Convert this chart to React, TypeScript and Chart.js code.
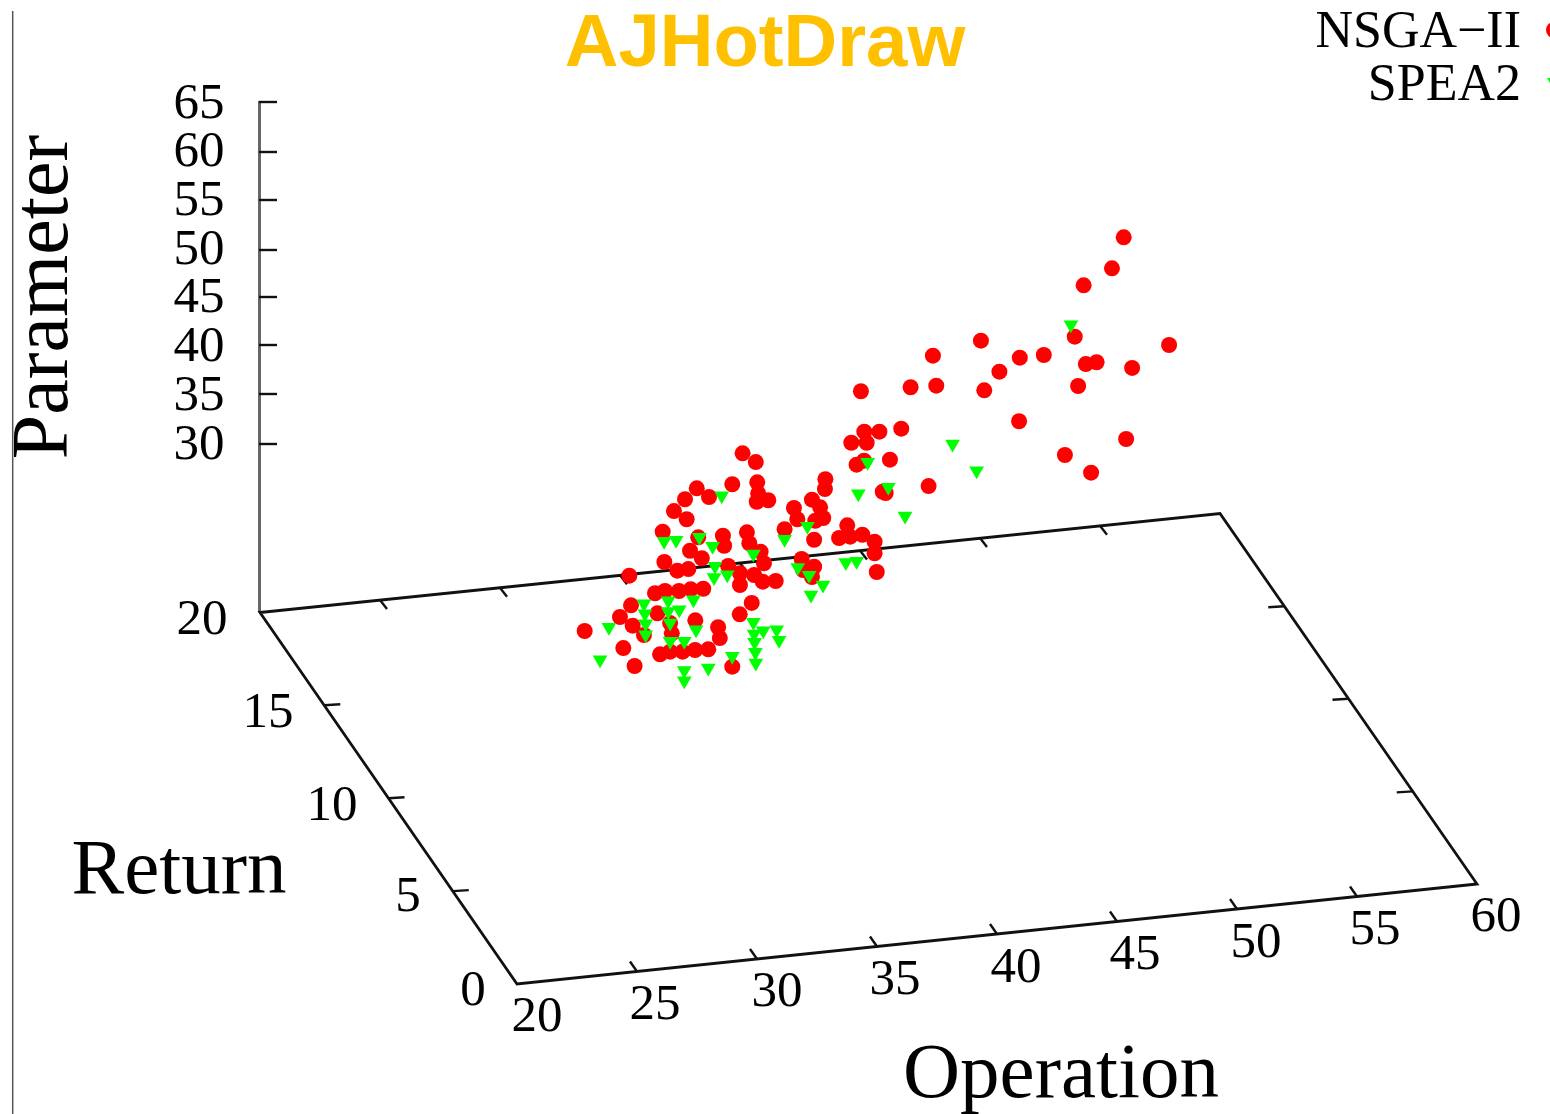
import React, { useEffect, useRef } from "react";
import { Chart, registerables } from "chart.js";

Chart.register(...registerables);

// Values are read from the picture. The source is a 3D view, so each mark is stored as its
// projected position in Operation units (along the front edge) and Parameter units (up the vertical axis).
const nsgaOperation = [45.28,44.79,43.61,43.24,39.33,47.17,37.33,40.95,41.95,40.10,43.70,44.15,45.63,36.40,37.47,39.47,43.38,34.33,40.92,36.01,35.10,34.47,33.93,34.57,45.38,42.83,43.92,35.54,34.15,34.46,37.15,35.24,35.36,29.40,29.95,28.97,30.01,27.49,28.00,27.00,30.05,29.99,30.47,26.54,27.07,26.07,32.85,32.83,32.29,32.63,31.54,31.68,32.43,32.76,31.15,32.38,33.76,33.42,33.88,34.39,34.90,34.90,28.58,28.63,27.55,27.21,27.70,29.58,29.68,30.15,30.29,31.86,32.38,26.14,34.99,24.68,26.68,27.14,28.80,29.29,29.29,29.88,30.24,30.78,25.75,26.17,26.75,27.24,27.76,24.75,24.29,25.85,24.82,22.82,25.29,26.45,26.38,27.43,28.38,28.45,29.78,29.28,24.43,24.90,25.96,26.38,26.90,27.42,27.97,28.97,31.92,32.29];
const nsgaParameter = [51.09,47.93,46.19,40.95,40.54,40.10,39.01,38.81,39.08,37.38,38.16,38.34,37.76,35.79,35.95,35.48,35.92,35.38,32.32,31.56,31.26,31.26,30.13,30.13,30.51,28.88,27.07,28.40,27.89,28.30,25.71,25.13,25.00,29.05,28.16,25.89,26.09,25.48,24.59,24.36,24.97,24.11,24.26,23.16,22.32,21.05,26.40,25.41,24.32,23.54,23.47,22.32,22.17,22.45,21.30,20.23,21.70,20.41,20.54,20.74,20.03,18.85,20.64,19.62,20.48,19.11,18.34,20.99,19.87,19.01,17.83,18.27,17.48,17.96,16.94,16.56,17.07,17.24,17.55,16.81,15.61,16.63,15.95,16.02,14.77,15.00,15.00,15.17,15.23,13.54,12.35,12.72,11.46,10.92,10.51,10.68,11.73,12.01,11.30,10.20,13.78,12.62,9.18,7.35,8.54,8.81,8.81,8.98,9.05,7.28,17.14,16.43];
const spea2Operation = [43.08,38.15,34.61,39.15,34.22,35.47,36.17,28.53,26.13,26.63,27.60,28.15,29.85,31.15,32.10,33.70,34.15,28.25,28.21,28.76,31.70,32.17,32.25,32.75,25.29,26.30,27.35,26.76,25.33,26.30,26.38,25.36,25.36,23.83,27.46,26.38,26.97,23.46,26.97,26.97,27.97,28.97,29.85,29.88,30.26,30.82,30.92,29.90,29.93,29.95];
const spea2Parameter = [42.17,30.00,28.13,27.27,24.92,25.58,22.65,24.72,20.07,20.17,20.48,19.56,18.77,20.27,21.60,17.92,18.03,17.52,16.39,16.66,17.41,16.60,14.59,15.61,13.70,14.01,14.11,13.09,12.68,12.92,11.73,11.66,10.54,11.29,11.05,9.86,9.86,7.99,6.90,5.84,7.14,8.33,11.80,10.61,10.94,11.05,9.97,9.76,8.74,7.65];

const seriesNames = ["NSGA\u2212II", "SPEA2"];
const titleText = "AJHotDraw";
const operationTicks = ["20","25","30","35","40","45","50","55","60"];
const returnTicks = ["0","5","10","15"];
const parameterTicks = ["30","35","40","45","50","55","60","65"];
const parameterBaseTick = "20";

const SERIF = '"Liberation Serif", serif';
const RED = "#ff0000";
const GREEN = "#00ff00";

const framePlugin = {
  id: "gnuplotFrame",
  beforeDatasetsDraw(chart: any) {
    const c = chart.ctx as CanvasRenderingContext2D;
    const seg = (x1: number, y1: number, x2: number, y2: number) => {
      c.beginPath(); c.moveTo(x1, y1); c.lineTo(x2, y2); c.stroke();
    };
    c.save();
    c.lineCap = "butt";

    // page edge rule
    c.strokeStyle = "#555555"; c.lineWidth = 1.5;
    seg(12.7, 11, 12.7, 1114);

    // vertical axis
    c.strokeStyle = "#666666"; c.lineWidth = 3;
    seg(259.5, 101, 259.5, 612);
    c.strokeStyle = "#111111"; c.lineWidth = 2.4;
    const zY = [444, 394, 345, 297, 250, 200, 152, 102];
    zY.forEach((y) => seg(259, y, 277, y));

    // floor
    c.strokeStyle = "#111111"; c.lineWidth = 2.8; c.lineJoin = "miter";
    c.beginPath();
    c.moveTo(260, 612.5); c.lineTo(517, 984); c.lineTo(1477, 884); c.lineTo(1220, 513.5); c.closePath();
    c.stroke();

    // floor ticks
    c.lineWidth = 2.4;
    for (let i = 1; i < 8; i++) {
      const fx = 517 + i * 120, fy = 984 - i * 12.5;
      seg(fx, fy, fx - 7, fy - 10);
      const bx = 260 + i * 120, by = 612.5 - i * 12.4;
      seg(bx, by, bx + 7, by + 9);
    }
    for (let i = 1; i < 4; i++) {
      const lx = 517 - i * 64.25, ly = 984 - i * 92.9;
      seg(lx, ly, lx + 16, ly - 1);
      const rx = 1477 - i * 64.25, ry = 884 - i * 92.6;
      seg(rx, ry, rx - 16, ry + 1);
    }

    // tick labels
    c.fillStyle = "#000000";
    c.textBaseline = "middle";
    c.font = `51px ${SERIF}`;
    c.textAlign = "center";
    const zLabelY = [445, 396, 347, 298, 250, 201, 152, 104];
    parameterTicks.forEach((t, i) => c.fillText(t, 199, zLabelY[i] + 1));
    c.fillText(parameterBaseTick, 202, 621);
    const rPos = [[473, 992], [408, 898], [332, 807], [268, 714]];
    returnTicks.forEach((t, i) => c.fillText(t, rPos[i][0], rPos[i][1]));
    const oPos = [[537, 1018], [655, 1006], [777, 993], [895, 981], [1016, 969], [1135, 956], [1256, 944], [1375, 931], [1496, 918]];
    operationTicks.forEach((t, i) => c.fillText(t, oPos[i][0], oPos[i][1]));

    // axis titles
    c.textBaseline = "alphabetic";
    c.font = `79px ${SERIF}`;
    c.fillText("Return", 179, 893);
    c.fillText("Operation", 1061, 1097);
    c.save();
    c.translate(67, 297);
    c.rotate(-Math.PI / 2);
    c.font = `80px ${SERIF}`;
    c.fillText("Parameter", 0, 0);
    c.restore();

    // title
    c.font = `bold 74.3px "Liberation Sans", sans-serif`;
    c.fillStyle = "#ffc000";
    c.fillText(titleText, 765, 66);

    // legend
    c.font = `52px ${SERIF}`;
    c.fillStyle = "#000000";
    c.textAlign = "right";
    c.fillText(seriesNames[0], 1521, 47);
    c.fillText(seriesNames[1], 1521, 100);
    c.fillStyle = RED;
    c.beginPath(); c.arc(1554, 30, 8, 0, Math.PI * 2); c.fill();
    c.fillStyle = GREEN;
    c.beginPath(); c.moveTo(1547, 78); c.lineTo(1561, 78); c.lineTo(1554, 90); c.closePath(); c.fill();
    c.restore();
  },
};

export default function App() {
  const ref = useRef<HTMLCanvasElement | null>(null);
  useEffect(() => {
    if (!ref.current) return;
    const chart = new Chart(ref.current, {
      type: "scatter",
      data: {
        datasets: [
          {
            label: seriesNames[0],
            data: nsgaOperation.map((x, i) => ({ x, y: nsgaParameter[i] })),
            backgroundColor: RED,
            borderColor: RED,
            borderWidth: 0,
            pointStyle: "circle",
            pointRadius: 8,
            order: 2,
          },
          {
            label: seriesNames[1],
            data: spea2Operation.map((x, i) => ({ x, y: spea2Parameter[i] })),
            backgroundColor: GREEN,
            borderColor: GREEN,
            borderWidth: 0,
            pointStyle: "triangle",
            rotation: 180,
            pointRadius: 8.5,
            order: 1,
          },
        ],
      },
      options: {
        animation: false,
        responsive: false,
        maintainAspectRatio: false,
        layout: { padding: 0, autoPadding: false },
        plugins: { legend: { display: false }, tooltip: { enabled: false }, title: { display: false } },
        scales: {
          x: { type: "linear", display: false, min: -1.5417, max: 63.0417 },
          y: { type: "linear", display: false, min: -38.367, max: 75.306 },
        },
      },
      plugins: [framePlugin],
    } as any);
    return () => chart.destroy();
  }, []);
  return (
    <div style={{ position: "absolute", left: 0, top: 0, width: 1550, height: 1114, background: "#ffffff", overflow: "hidden" }}>
      <canvas ref={ref} width={1550} height={1114} style={{ display: "block" }} />
    </div>
  );
}
